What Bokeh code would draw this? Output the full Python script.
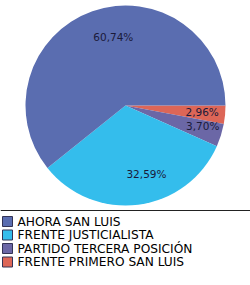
import math
from bokeh.plotting import figure
from bokeh.models import ColumnDataSource, Span
from bokeh.core.properties import value
from bokeh.embed import file_html
from bokeh.resources import INLINE

parties = ["AHORA SAN LUIS", "FRENTE JUSTICIALISTA", "PARTIDO TERCERA POSICIÓN", "FRENTE PRIMERO SAN LUIS"]
shares = [60.74, 32.59, 3.70, 2.96]
labels = ["60,74%", "32,59%", "3,70%", "2,96%"]
colors = ["#5A6DB0", "#34BDEC", "#6B67A6", "#DD6657"]

W, H = 250, 285
cx, cy, r = 125, H - 105, 100

p = figure(width=W, height=H, x_range=(0, W), y_range=(0, H),
           output_backend="svg", toolbar_location=None, min_border=0)
p.axis.visible = False
p.grid.visible = False
p.outline_line_color = None
p.background_fill_color = "white"
p.border_fill_color = "white"

# Slices drawn clockwise from 3 o'clock, starting with the last party
order = [3, 2, 1, 0]
# label placement: (radius factor, x shift px, y shift px)
label_pos = {0: (0.70, 11, -2), 1: (0.70, 12, -1), 2: (0.82, -1, -4), 3: (0.80, -3, -1)}
total = sum(shares)
cum = 0.0
starts, ends, cols, lx, ly, lt = [], [], [], [], [], []
for i in order:
    a0 = -cum / total * 2 * math.pi
    cum += shares[i]
    a1 = -cum / total * 2 * math.pi
    starts.append(a1)
    ends.append(a0)
    cols.append(colors[i])
    mid = (a0 + a1) / 2
    f, dx, dy = label_pos[i]
    lx.append(cx + r * f * math.cos(mid) + dx)
    ly.append(cy + r * f * math.sin(mid) - dy)
    lt.append(labels[i])

src = ColumnDataSource(dict(x=[cx] * 4, y=[cy] * 4, s=starts, e=ends, c=cols))
p.wedge(x="x", y="y", radius=r, start_angle="s", end_angle="e", direction="anticlock",
        fill_color="c", line_color=None, source=src)

lsrc = ColumnDataSource(dict(x=lx, y=ly, t=lt))
p.text(x="x", y="y", text="t", source=lsrc, text_align="center", text_baseline="middle",
       text_font=value("DejaVu Sans"), text_font_size="10.5px", text_color="#1a1a3a")

p.add_layout(Span(location=H - 210, dimension="width", line_color="#222222", line_width=1))

# Legend
leg_y = [H - 221 - 13.5 * k for k in range(len(parties))]
p.rect(x=[7] * 4, y=leg_y, width=10, height=10, fill_color=colors,
       line_color="#333355", line_width=1)
p.text(x=[17] * 4, y=leg_y, text=parties, text_align="left", text_baseline="middle",
       text_font=value("DejaVu Sans"), text_font_size="12.2px", text_color="#000000")

open("out.html", "w").write(file_html(p, INLINE))
